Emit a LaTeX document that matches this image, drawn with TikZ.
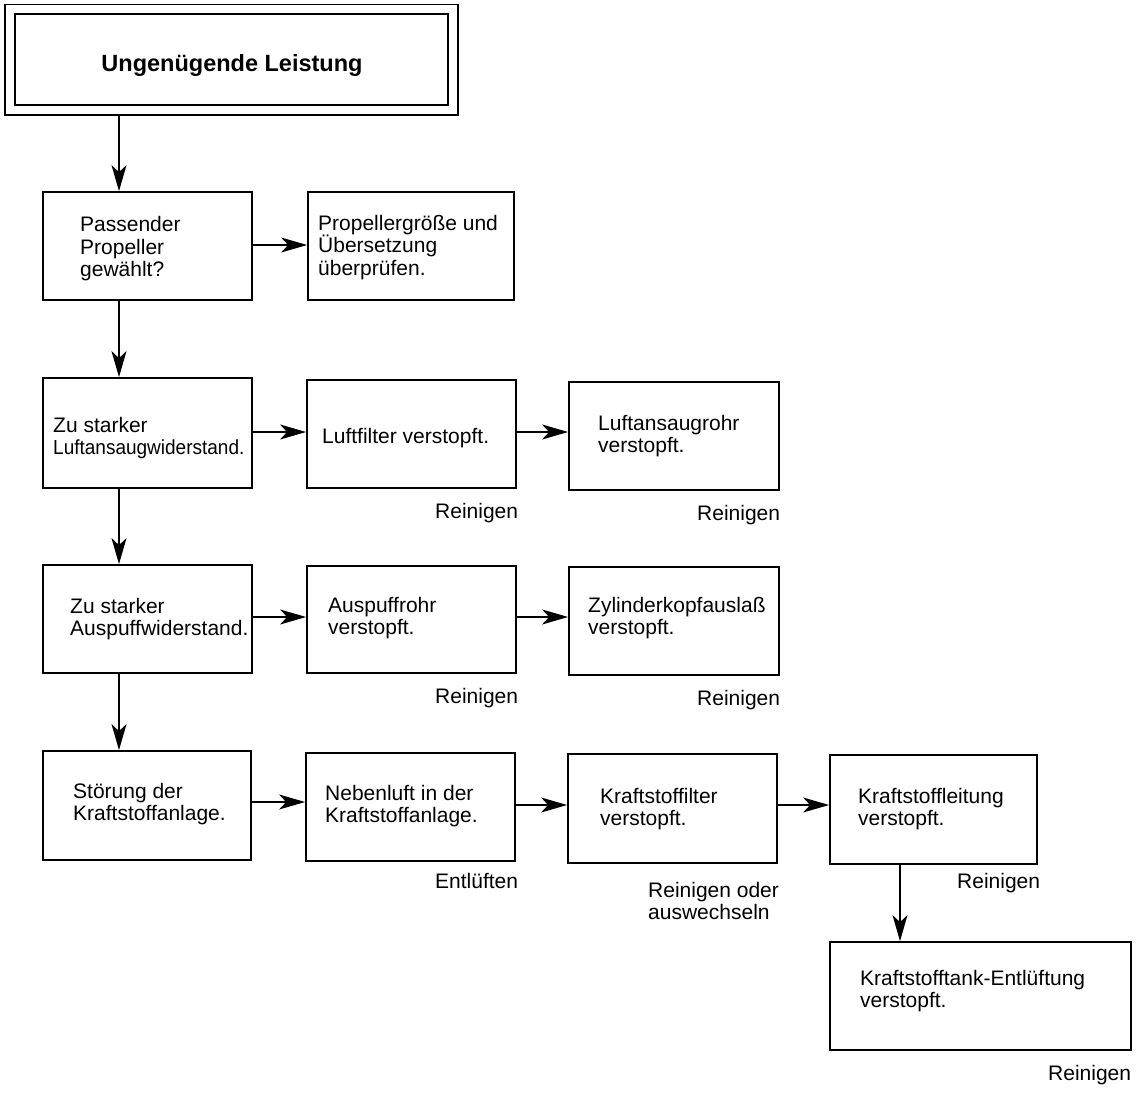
\documentclass[tikz,border=0pt]{standalone}
\usepackage{fontspec}
\setmainfont{Liberation Sans}
\usetikzlibrary{arrows.meta,fit}
\newcommand{\mlines}[1]{\vtop{\lineskiplimit=-100pt\lineskip=0pt\baselineskip=22.5pt\halign{##\hfil\cr#1\crcr}}}
\tikzset{
  box/.style={draw, line width=1.8pt, inner sep=0pt},
  txt/.style={anchor=base west, inner sep=0pt, font=\fontsize{21}{22.5}\selectfont},
  arr/.style={line width=1.5pt, -{Stealth[length=26pt,width=15pt,inset=7pt]}},
}
\begin{document}
\begin{tikzpicture}[x=1pt,y=-1pt]
\fill[white] (0,0) rectangle (1143,1094);
\useasboundingbox (0,0) rectangle (1143,1094);

% title
\node[draw, line width=1.6pt, double, double distance=8pt, inner sep=0pt, fit={(10,9.5) (453,110)}] (title) {};
\node[anchor=base, inner sep=0pt, font=\fontsize{23.5}{26}\selectfont\bfseries] (titletxt) at (232,72) {Ungenügende Leistung};

% boxes
\node[box, fit={(43,192) (252,300)}] (a1) {};
\node[box, fit={(308,192) (514,300)}] (a2) {};
\node[box, fit={(43,378) (252,488)}] (b1) {};
\node[box, fit={(307,380) (516,488)}] (b2) {};
\node[box, fit={(569,382) (779,490)}] (b3) {};
\node[box, fit={(43,565) (252,673)}] (c1) {};
\node[box, fit={(307,566) (516,673)}] (c2) {};
\node[box, fit={(569,567) (779,675)}] (c3) {};
\node[box, fit={(43,751) (251,860)}] (d1) {};
\node[box, fit={(306,753) (515,861)}] (d2) {};
\node[box, fit={(568,754) (777,863)}] (d3) {};
\node[box, fit={(830,755) (1037,864)}] (d4) {};
\node[box, fit={(830,942) (1131,1050)}] (e) {};

% texts
\node[txt] (a1t) at (80,232) {\mlines{Passender\cr Propeller\cr gewählt?}};
\node[txt] (a2t) at (318,230) {\mlines{Propellergröße und\cr Übersetzung\cr überprüfen.}};
\node[txt] (b1t) at (53,432) {\mlines{Zu starker\cr \scalebox{0.905}[0.97]{Luftansaugwiderstand.}}};
\node[txt] (b2t) at (322,443) {Luftfilter verstopft.};
\node[txt] (b3t) at (598,430) {\mlines{Luftansaugrohr\cr verstopft.}};
\node[txt] (c1t) at (70,613) {\mlines{Zu starker\cr Auspuffwiderstand.}};
\node[txt] (c2t) at (328,612) {\mlines{Auspuffrohr\cr verstopft.}};
\node[txt] (c3t) at (588,612) {\mlines{Zylinderkopfauslaß\cr verstopft.}};
\node[txt] (d1t) at (73,798) {\mlines{Störung der\cr Kraftstoffanlage.}};
\node[txt] (d2t) at (325,800) {\mlines{Nebenluft in der\cr Kraftstoffanlage.}};
\node[txt] (d3t) at (600,803) {\mlines{Kraftstoffilter\cr verstopft.}};
\node[txt] (d4t) at (858,803) {\mlines{Kraftstoffleitung\cr verstopft.}};
\node[txt] (et) at (860,985) {\mlines{Kraftstofftank-Entlüftung\cr verstopft.}};

% remedy labels
\node[txt] (rb2) at (435,518) {Reinigen};
\node[txt] (rb3) at (697,520) {Reinigen};
\node[txt] (rc2) at (435,703) {Reinigen};
\node[txt] (rc3) at (697,705) {Reinigen};
\node[txt] (rd2) at (435,888) {Entlüften};
\node[txt] (rd3) at (648,897) {\mlines{Reinigen oder\cr auswechseln}};
\node[txt] (rd4) at (957,888) {Reinigen};
\node[txt] (re) at (1048,1080) {Reinigen};

% vertical connectors
\coordinate (vx) at (119,0);
\coordinate (vx2) at (900,0);
\draw[arr] ([yshift=-5.6pt]title.south -| vx) -- (a1.north -| vx);
\draw[arr] (a1.south -| vx) -- (b1.north -| vx);
\draw[arr] (b1.south -| vx) -- (c1.north -| vx);
\draw[arr] (c1.south -| vx) -- (d1.north -| vx);
\draw[arr] (d4.south -| vx2) -- (e.north -| vx2);

% horizontal connectors
\draw[arr] ([yshift=1pt]a1.east) -- ([yshift=1pt]a1.east -| a2.west);
\draw[arr] ([yshift=1pt]b1.east) -- ([yshift=1pt]b1.east -| b2.west);
\draw[arr] ([yshift=2pt]b2.east) -- ([yshift=2pt]b2.east -| b3.west);
\draw[arr] ([yshift=2pt]c1.east) -- ([yshift=2pt]c1.east -| c2.west);
\draw[arr] ([yshift=2.5pt]c2.east) -- ([yshift=2.5pt]c2.east -| c3.west);
\draw[arr] ([yshift=3.5pt]d1.east) -- ([yshift=3.5pt]d1.east -| d2.west);
\draw[arr] ([yshift=2pt]d2.east) -- ([yshift=2pt]d2.east -| d3.west);
\draw[arr] ([yshift=3.5pt]d3.east) -- ([yshift=3.5pt]d3.east -| d4.west);
\end{tikzpicture}
\end{document}
